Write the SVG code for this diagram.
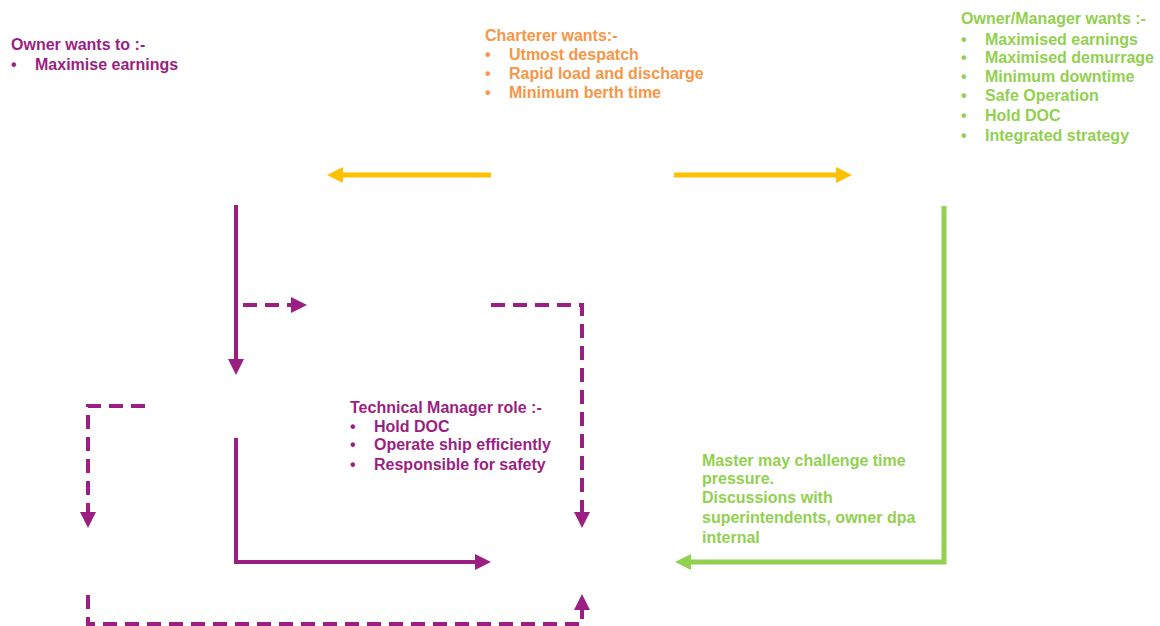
<svg xmlns="http://www.w3.org/2000/svg" width="1160" height="626" viewBox="0 0 1160 626">
<style>
text{font-family:"Liberation Sans",Arial,sans-serif;font-weight:bold;font-size:16px}
.p{fill:#9B1F82}.o{fill:#F79646}.g{fill:#92D050}
.sp{stroke:#9B1F82;stroke-width:4;fill:none}
.dp{stroke:#9B1F82;stroke-width:4;fill:none;stroke-dasharray:14,8}
.y{stroke:#FFC000;stroke-width:5;fill:none}
.gl{stroke:#92D050;stroke-width:5;fill:none}
</style>
<defs>
<marker id="ap" markerUnits="userSpaceOnUse" markerWidth="20" markerHeight="20" refX="0" refY="8" orient="auto"><path d="M0,0L16,8L0,16Z" fill="#9B1F82"/></marker>
<marker id="ay" markerUnits="userSpaceOnUse" markerWidth="20" markerHeight="20" refX="0" refY="8" orient="auto"><path d="M0,0L16,8L0,16Z" fill="#FFC000"/></marker>
<marker id="ag" markerUnits="userSpaceOnUse" markerWidth="20" markerHeight="20" refX="0" refY="8" orient="auto"><path d="M0,0L16,8L0,16Z" fill="#92D050"/></marker>
</defs>
<g id="connectors">
<path class="y" d="M491,175H343" marker-end="url(#ay)"/>
<path class="y" d="M674,175H836" marker-end="url(#ay)"/>
<path class="gl" d="M944,206V562H691" marker-end="url(#ag)"/>
<path class="sp" d="M236,205V359" marker-end="url(#ap)"/>
<path class="dp" d="M243,305H291" marker-end="url(#ap)"/>
<path class="dp" d="M491,305H582V512" marker-end="url(#ap)"/>
<path class="dp" d="M145,406H88V512" marker-end="url(#ap)"/>
<path class="sp" d="M236,438V562H475" marker-end="url(#ap)"/>
<path class="dp" d="M88,595V624H582V610" marker-end="url(#ap)"/>
</g>
<g id="owner">
<text class="p" x="11" y="50">Owner wants to :-</text>
<text class="p" x="11" y="70">•</text><text class="p" x="35" y="70">Maximise earnings</text>
</g>
<g id="charterer">
<text class="o" x="485" y="41">Charterer wants:-</text>
<text class="o" x="485" y="60">•</text><text class="o" x="509" y="60">Utmost despatch</text>
<text class="o" x="485" y="79">•</text><text class="o" x="509" y="79">Rapid load and discharge</text>
<text class="o" x="485" y="98">•</text><text class="o" x="509" y="98">Minimum berth time</text>
</g>
<g id="ownermanager">
<text class="g" x="961" y="24">Owner/Manager wants :-</text>
<text class="g" x="961" y="45">•</text><text class="g" x="985" y="45">Maximised earnings</text>
<text class="g" x="961" y="63">•</text><text class="g" x="985" y="63">Maximised demurrage</text>
<text class="g" x="961" y="82">•</text><text class="g" x="985" y="82">Minimum downtime</text>
<text class="g" x="961" y="101">•</text><text class="g" x="985" y="101">Safe Operation</text>
<text class="g" x="961" y="121">•</text><text class="g" x="985" y="121">Hold DOC</text>
<text class="g" x="961" y="141">•</text><text class="g" x="985" y="141">Integrated strategy</text>
</g>
<g id="techmanager">
<text class="p" x="350" y="413">Technical Manager role :-</text>
<text class="p" x="350" y="432">•</text><text class="p" x="374" y="432">Hold DOC</text>
<text class="p" x="350" y="450">•</text><text class="p" x="374" y="450">Operate ship efficiently</text>
<text class="p" x="350" y="470">•</text><text class="p" x="374" y="470">Responsible for safety</text>
</g>
<g id="master">
<text class="g" x="702" y="466">Master may challenge time</text>
<text class="g" x="702" y="484">pressure.</text>
<text class="g" x="702" y="503">Discussions with</text>
<text class="g" x="702" y="523">superintendents, owner dpa</text>
<text class="g" x="702" y="543">internal</text>
</g>
</svg>
